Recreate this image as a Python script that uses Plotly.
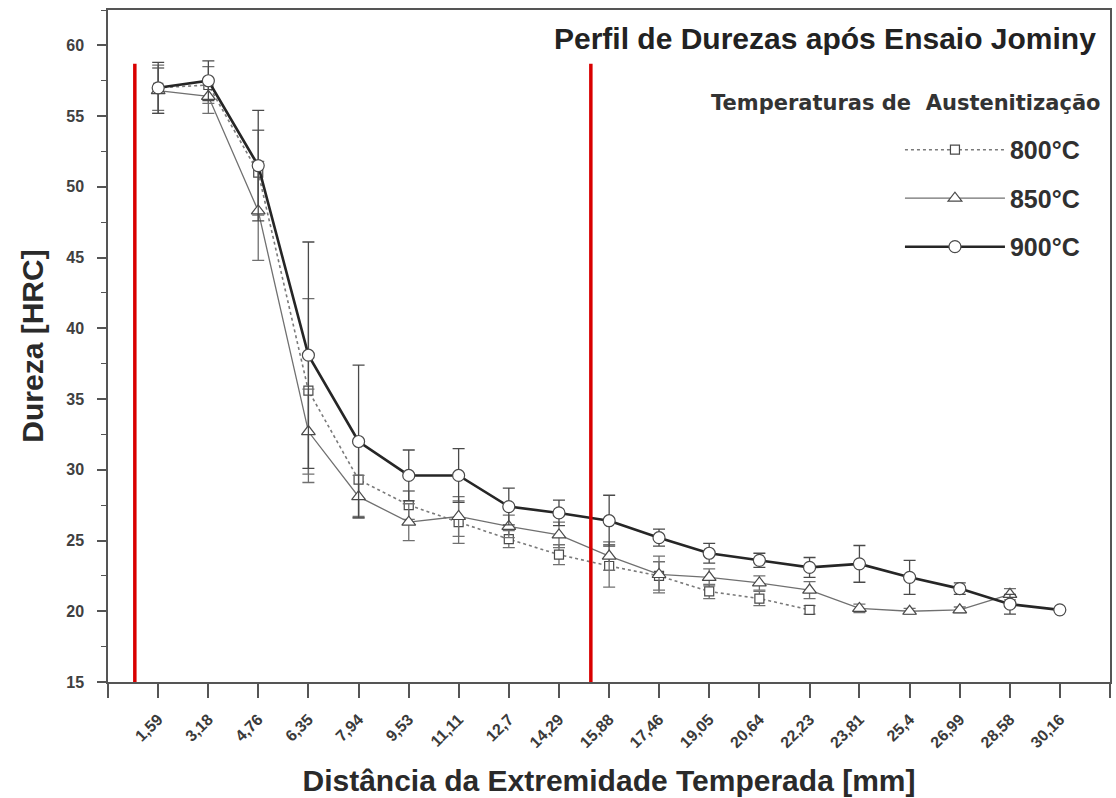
import plotly.graph_objects as go

# ---- data ----
dist = [1.59, 3.18, 4.76, 6.35, 7.94, 9.53, 11.11, 12.7, 14.29, 15.88,
        17.46, 19.05, 20.64, 22.23, 23.81, 25.4, 26.99, 28.58, 30.16]
tick_labels = ["1,59", "3,18", "4,76", "6,35", "7,94", "9,53", "11,11", "12,7", "14,29", "15,88",
               "17,46", "19,05", "20,64", "22,23", "23,81", "25,4", "26,99", "28,58", "30,16"]

hrc_800 = [57.0, 57.2, 51.0, 35.6, 29.3, 27.5, 26.3, 25.1, 24.0, 23.2, 22.5, 21.4, 20.9, 20.1]
err_800 = [1.6, 1.3, 3.0, 6.5, 2.6, 1.0, 1.5, 0.6, 0.7, 1.5, 1.0, 0.5, 0.5, 0.3]

hrc_850 = [56.8, 56.4, 48.3, 32.7, 28.1, 26.3, 26.7, 26.0, 25.4, 23.9, 22.6, 22.4, 22.0, 21.5,
           20.2, 20.0, 20.1, 21.2]
err_850 = [1.6, 1.2, 3.5, 3.0, 1.5, 1.3, 1.4, 0.8, 0.9, 1.0, 1.3, 0.6, 0.5, 0.6, 0.3, 0.2, 0.2, 0.4]

hrc_900 = [57.0, 57.5, 51.5, 38.1, 32.0, 29.6, 29.6, 27.4, 26.95, 26.4, 25.2, 24.1, 23.6, 23.1,
           23.35, 22.4, 21.6, 20.5, 20.1]
err_900 = [1.8, 1.4, 3.9, 8.0, 5.4, 1.8, 1.9, 1.3, 0.9, 1.8, 0.6, 0.7, 0.5, 0.7, 1.3, 1.2, 0.4, 0.7, 0.0]

series_names = ["800°C", "850°C", "900°C"]
red_line_x = [0.85, 15.3]
red_line_top = 58.7
x_range = [0, 31.75]
y_range = [15, 62.5]

FONT = "Liberation Sans, Arial, sans-serif"
WIDE = "DejaVu Sans, Verdana, sans-serif"

fig = go.Figure()

styles = [
    dict(y=hrc_800, e=err_800, color="#7a7a7a", width=1.6, dash="dot", symbol="square", size=9,
         ecolor="#707070"),
    dict(y=hrc_850, e=err_850, color="#707070", width=1.3, dash="solid", symbol="triangle-up", size=12,
         ecolor="#707070"),
    dict(y=hrc_900, e=err_900, color="#262626", width=2.6, dash="solid", symbol="circle", size=12,
         ecolor="#4a4a4a"),
]

for name, s in zip(series_names, styles):
    n = len(s["y"])
    fig.add_trace(go.Scatter(
        x=dist[:n], y=s["y"], name=name, legendgroup=name, mode="lines+markers",
        line=dict(color=s["color"], width=s["width"], dash=s["dash"]),
        marker=dict(symbol=s["symbol"], size=s["size"], color="white",
                    line=dict(color="#4a4a4a", width=1.2)),
        error_y=dict(type="data", array=s["e"], visible=True, color=s["ecolor"],
                     thickness=1.3, width=6),
    ))

for xv in red_line_x:
    fig.add_shape(type="line", x0=xv, x1=xv, y0=y_range[0], y1=red_line_top,
                  xref="x", yref="y", line=dict(color="#d90000", width=3.5))

tickvals = [x_range[0]] + dist + [x_range[1]]
ticktext = [""] + tick_labels + [""]

fig.update_layout(
    width=1116, height=798,
    margin=dict(l=108, r=4, t=10, b=116),
    paper_bgcolor="white", plot_bgcolor="white",
    font=dict(family=FONT, color="#333333"),
    showlegend=True,
    legend=dict(x=0.975, xanchor="right", y=0.826, yanchor="top",
                bgcolor="rgba(0,0,0,0)", tracegroupgap=13, itemwidth=100,
                font=dict(family=FONT, size=25, color="#303030", weight="bold")),
    xaxis=dict(range=x_range, tickmode="array", tickvals=tickvals, ticktext=ticktext,
               tickangle=-45, ticks="outside", ticklen=14, tickwidth=1.5, tickcolor="#555555",
               ticklabelstandoff=6,
               showline=True, linecolor="#555555", linewidth=1.5, mirror=True,
               showgrid=False, zeroline=False,
               tickfont=dict(family=FONT, size=16, color="#3a3a3a", weight="bold"),
               title=dict(text="Distância da Extremidade Temperada [mm]", standoff=20,
                          font=dict(family=FONT, size=30, color="#2a2a2a", weight="bold"))),
    yaxis=dict(range=y_range, tickmode="array", tickvals=[15, 20, 25, 30, 35, 40, 45, 50, 55, 60],
               ticks="outside", ticklen=9, tickwidth=1.5, tickcolor="#555555",
               ticklabelstandoff=10,
               minor=dict(dtick=2.5, tick0=15, ticks="outside", ticklen=5, tickcolor="#555555",
                          tickwidth=1.2),
               showline=True, linecolor="#555555", linewidth=1.5, mirror=True,
               showgrid=False, zeroline=False,
               tickfont=dict(family=FONT, size=16, color="#404040", weight="bold"),
               title=dict(text="Dureza [HRC]", standoff=14,
                          font=dict(family=FONT, size=30, color="#2a2a2a", weight="bold"))),
    annotations=[
        dict(text="Perfil de Durezas após Ensaio Jominy", xref="paper", yref="paper",
             x=0.988, y=0.958, xanchor="right", yanchor="middle", showarrow=False,
             font=dict(family=FONT, size=30, color="#222222", weight="bold")),
        dict(text="Temperaturas de  Austenitização", xref="paper", yref="paper",
             x=0.993, y=0.862, xanchor="right", yanchor="middle", showarrow=False,
             font=dict(family=WIDE, size=21, color="#333333", weight="bold")),
    ],
)

fig.write_html("out.html")
